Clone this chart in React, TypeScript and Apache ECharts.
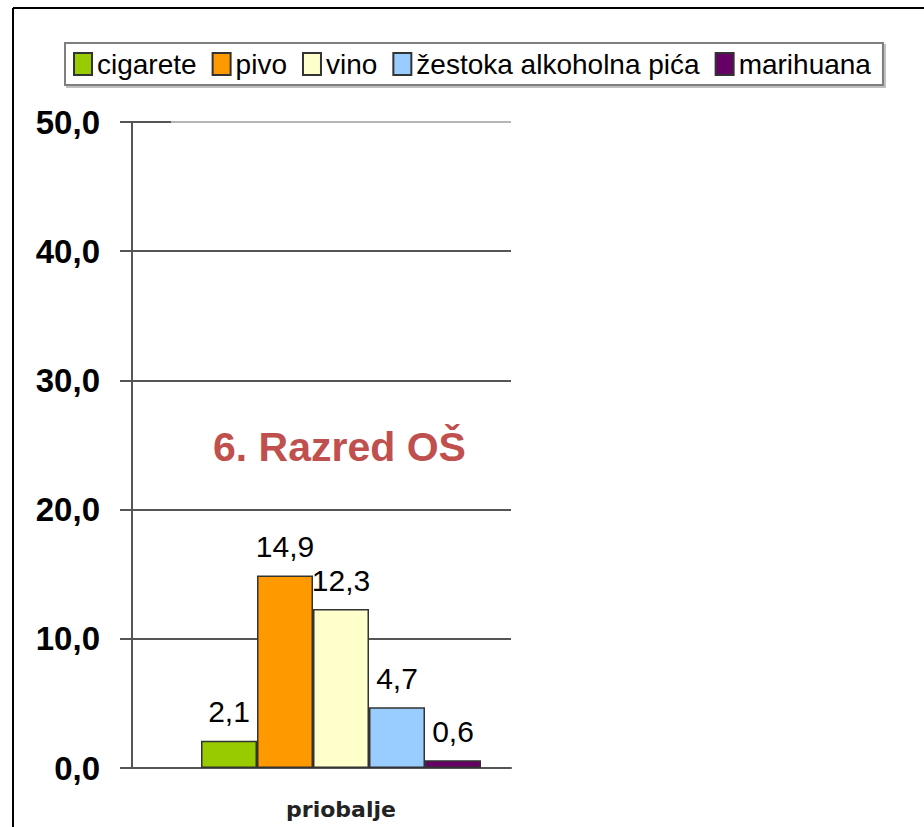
import React, { useEffect, useRef } from "react";
import * as echarts from "echarts";

const categories = ["priobalje"];
const seriesNames = ["cigarete", "pivo", "vino", "žestoka alkoholna pića", "marihuana"];
const seriesValues = [[2.1], [14.9], [12.3], [4.7], [0.6]];
const seriesColors = ["#99cc00", "#ff9900", "#ffffcc", "#99ccff", "#660066"];
const yTicks = [0, 10, 20, 30, 40, 50];
const titleText = "6. Razred OŠ";

const fmt = (v: number) => v.toFixed(1).replace(".", ",");
const ARIAL = "'Liberation Sans', Arial, sans-serif";

export default function App() {
  const ref = useRef<HTMLDivElement>(null);
  useEffect(() => {
    if (!ref.current) return;
    const chart = echarts.init(ref.current, undefined, { renderer: "svg" });
    const option: any = {
      animation: false,
      backgroundColor: "#ffffff",
      title: {
        text: titleText,
        left: 213,
        top: 426,
        padding: 0,
        textStyle: { fontFamily: ARIAL, fontSize: 41, fontWeight: "bold", color: "#c0504d" },
      },
      legend: {
        left: 65,
        top: 43,
        padding: [7, 12, 7, 8],
        itemWidth: 18,
        itemHeight: 22,
        itemGap: 15,
        icon: "rect",
        borderColor: "#7f7f7f",
        borderWidth: 2,
        backgroundColor: "#ffffff",
        shadowColor: "rgba(0,0,0,0.25)",
        shadowOffsetX: 2,
        shadowOffsetY: 2,
        shadowBlur: 0,
        textStyle: { fontFamily: ARIAL, fontSize: 28, color: "#000" },
        data: seriesNames,
      },
      grid: { left: 171, right: 413, top: 122, bottom: 59 },
      xAxis: {
        type: "category",
        data: categories,
        axisLine: { show: true, lineStyle: { color: "#555", width: 2 } },
        axisTick: { show: false },
        axisLabel: {
          margin: 30,
          fontFamily: "'DejaVu Sans', sans-serif",
          fontSize: 22,
          fontWeight: "bold",
          color: "#222",
        },
      },
      yAxis: [
        {
          type: "value",
          position: "left",
          offset: 0,
          min: yTicks[0],
          max: yTicks[yTicks.length - 1],
          interval: 10,
          axisLine: { show: false },
          axisTick: { show: true, inside: false, length: 51, lineStyle: { color: "#555", width: 2 } },
          axisLabel: {
            margin: 71,
            fontFamily: ARIAL,
            fontSize: 33,
            fontWeight: "bold",
            color: "#000",
            formatter: (v: number) => fmt(v),
          },
          splitLine: {
            show: true,
            lineStyle: { color: ["#555", "#555", "#555", "#555", "#555", "#b5b5b5"], width: 2 },
          },
        },
        {
          type: "value",
          position: "left",
          offset: 39,
          min: yTicks[0],
          max: yTicks[yTicks.length - 1],
          interval: 10,
          axisLine: { show: true, lineStyle: { color: "#555", width: 2 } },
          axisTick: { show: false },
          axisLabel: { show: false },
          splitLine: { show: false },
        },
      ],
      series: seriesNames.map((name, i) => ({
        name,
        type: "bar",
        yAxisIndex: 0,
        data: seriesValues[i],
        barWidth: 56,
        barGap: "0%",
        itemStyle: { color: seriesColors[i], borderColor: "#333", borderWidth: 1.5 },
        label: {
          show: true,
          position: "top",
          distance: 14,
          fontFamily: ARIAL,
          fontSize: 30,
          color: "#000",
          formatter: (p: any) => fmt(p.value),
        },
      })),
      graphic: [
        { type: "line", shape: { x1: 13, y1: 8, x2: 924, y2: 8 }, style: { stroke: "#000", lineWidth: 2 }, z: 100 },
        { type: "line", shape: { x1: 13, y1: 8, x2: 13, y2: 827 }, style: { stroke: "#000", lineWidth: 2 }, z: 100 },
      ],
    };
    chart.setOption(option);
    return () => chart.dispose();
  }, []);
  return (
    <div
      ref={ref}
      style={{ position: "absolute", left: 0, top: 0, width: 924, height: 827 }}
    />
  );
}
